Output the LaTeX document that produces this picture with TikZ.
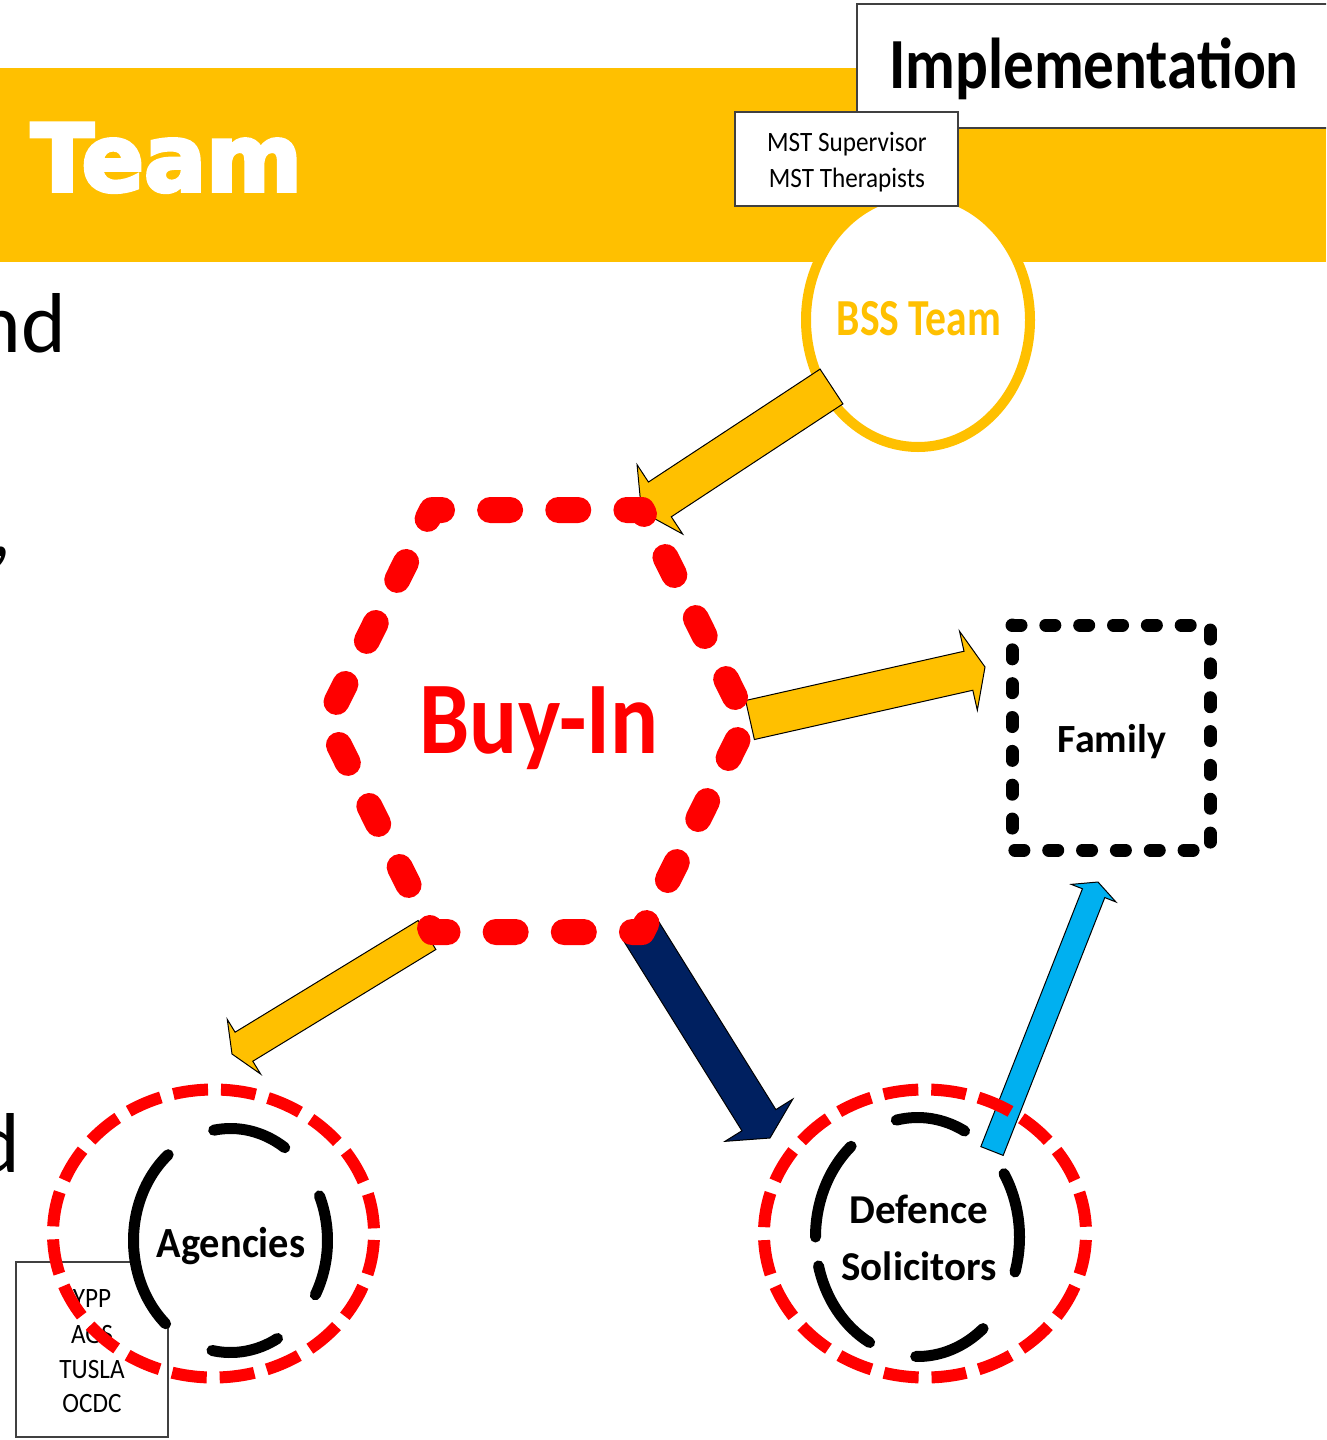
\documentclass[tikz,border=0pt]{standalone}
\usepackage{fontspec}
\usepackage{graphicx}
\setmainfont{Carlito}
\newfontfamily\teamfont{DejaVu Sans}[FakeBold=4]
\usetikzlibrary{calc}
\definecolor{ppyellow}{HTML}{FFC000}
\definecolor{ppred}{HTML}{FF0000}
\definecolor{ppnavy}{HTML}{002060}
\definecolor{ppblue}{HTML}{00B0F0}
\definecolor{ppgray}{HTML}{404040}
\newcommand{\pxfont}[1]{\fontsize{#1}{#1}\selectfont}
\newcommand{\blockarrow}[6]{%
  \coordinate (hb) at ($(#2)!#5!(#1)$);
  \filldraw[fill=#6, draw=black, line width=1pt, line join=miter]
    ($(#1)!#3!90:(#2)$) -- ($(hb)!#3!90:(#2)$) -- ($(hb)!#4!90:(#2)$) -- (#2)
    -- ($(hb)!#4!-90:(#2)$) -- ($(hb)!#3!-90:(#2)$) -- ($(#1)!#3!-90:(#2)$) -- cycle;}
\newcommand{\earc}[6]{%
  \draw[#6] ($(#1)+({#2*cos(#4)},{-#3*sin(#4)})$) arc[start angle={-#4}, end angle={-#5}, x radius=#2, y radius=#3];}
\tikzset{
  txt/.style={inner sep=0pt, anchor=base},
  thinbox/.style={draw=ppgray, line width=1.2pt, fill=white},
  inarc/.style={black, line width=11pt, line cap=round},
  reddash/.style={ppred, line width=12pt, dash pattern=on 35pt off 12.94pt, dash phase=41.5pt},
}
\begin{document}
\begin{tikzpicture}[x=1pt,y=-1pt]
\useasboundingbox (0,0) rectangle (1326,1440);
\clip (0,0) rectangle (1326,1440);
% banner
\fill[ppyellow] (0,68) rectangle (1326,262);
\node[txt, text=white] (team) at (166.5,191) {\teamfont\bfseries\pxfont{93}\scalebox{0.99}[1]{Team}};
% implementation
\draw[thinbox, line width=1.5pt] (857,4) rectangle (1345,128);
\node[txt] (impl) at (1094,88) {\bfseries\pxfont{72}\scalebox{0.85}[1]{Implementation}};
% BSS team
\draw[ppyellow, line width=10pt, fill=white] (918,320) ellipse [x radius=112, y radius=127];
\node[txt, text=ppyellow] (bss) at (919,335) {\bfseries\pxfont{52}\scalebox{0.8}[1]{BSS Team}};
% MST box
\draw[thinbox] (735,112) rectangle (958,206);
\node[txt] (mst1) at (847,151) {\pxfont{28}\scalebox{0.9}[1]{MST Supervisor}};
\node[txt] (mst2) at (847,187) {\pxfont{28}\scalebox{0.9}[1]{MST Therapists}};
% arrows
\coordinate (aTail) at (831.5,386.5); \coordinate (aTip) at (641.5,511.5);
\blockarrow{aTail}{aTip}{20.8pt}{41.5pt}{22pt}{ppyellow}
\coordinate (bTail) at (750,720); \coordinate (bTip) at (985,667);
\blockarrow{bTail}{bTip}{20pt}{40.5pt}{17pt}{ppyellow}
\coordinate (cTail) at (427,935); \coordinate (cTip) at (232,1054);
\blockarrow{cTail}{cTip}{17pt}{32pt}{14pt}{ppyellow}
\coordinate (dTail) at (641,931); \coordinate (dTip) at (770,1138);
\blockarrow{dTail}{dTip}{20pt}{40pt}{21pt}{ppnavy}
% hexagon
\coordinate (h1) at (432,510); \coordinate (h2) at (642,510); \coordinate (h3) at (747,721);
\coordinate (h4) at (642,932); \coordinate (h5) at (432,932); \coordinate (h6) at (327,721);
\draw[ppred, line width=26pt, line cap=round, line join=round, dash pattern=on 20pt off 48.14pt, dash phase=10pt]
  (h1) -- (h2) -- (h3) -- (h4) -- (h5) -- (h6) -- cycle;
\node[txt, text=ppred] (buyin) at (539,753) {\bfseries\pxfont{103}\scalebox{0.87}[1]{Buy-In}};
% family
\draw[black, line width=13pt, line cap=round, dash pattern=on 9pt off 24.84pt]
  (1012,625) -- (1210,625) -- (1210,850) -- (1012,850) -- cycle;
\node[txt] (family) at (1112,752) {\bfseries\pxfont{40}Family};
% agencies
\draw[thinbox] (16,1262) rectangle (168,1437);
\node[txt] (ag1) at (92,1307) {\pxfont{28}\scalebox{0.9}[1]{YPP}};
\node[txt] (ag2) at (92,1343) {\pxfont{28}\scalebox{0.9}[1]{AGS}};
\node[txt] (ag3) at (92,1378) {\pxfont{28}\scalebox{0.9}[1]{TUSLA}};
\node[txt] (ag4) at (92,1412) {\pxfont{28}\scalebox{0.9}[1]{OCDC}};
\coordinate (agc) at (230.5,1240.5);
\fill[white] (agc) ellipse [x radius=97, y radius=112];
\earc{agc}{97}{112}{56}{100}{inarc}
\earc{agc}{97}{112}{-29}{23.5}{inarc}
\earc{agc}{97}{112}{-101}{-61}{inarc}
\earc{agc}{97}{112}{130}{228}{inarc}
\draw[reddash] (213.5,1233.5) ellipse [x radius=160.5, y radius=144];
\node[txt] (agencies) at (231,1257) {\bfseries\pxfont{43}\scalebox{0.94}[1]{Agencies}};
% defence
\coordinate (eTail) at (992,1151); \coordinate (eTip) at (1098,882);
\blockarrow{eTail}{eTip}{12pt}{24pt}{12pt}{ppblue}
\coordinate (dfc) at (917.5,1237);
\earc{dfc}{102}{119.5}{62.5}{102}{inarc}
\earc{dfc}{102}{119.5}{-17}{32}{inarc}
\earc{dfc}{102}{119.5}{-91}{-50}{inarc}
\earc{dfc}{102}{119.5}{-166}{-118}{inarc}
\earc{dfc}{102}{119.5}{130.6}{180}{inarc}
\draw[reddash] (925,1233.5) ellipse [x radius=161, y radius=144];
\node[txt] (def1) at (919,1223) {\bfseries\pxfont{41}Defence};
\node[txt] (def2) at (919,1280) {\bfseries\pxfont{41}Solicitors};
% cut-off body text fragments
\node[inner sep=0pt, anchor=base east] (frag1) at (66,352) {\pxfont{85}and};
\node[inner sep=0pt, anchor=base east] (frag2) at (12,556) {\pxfont{85},};
\node[inner sep=0pt, anchor=base east] (frag3) at (20,1172) {\pxfont{85}d};
\end{tikzpicture}
\end{document}
